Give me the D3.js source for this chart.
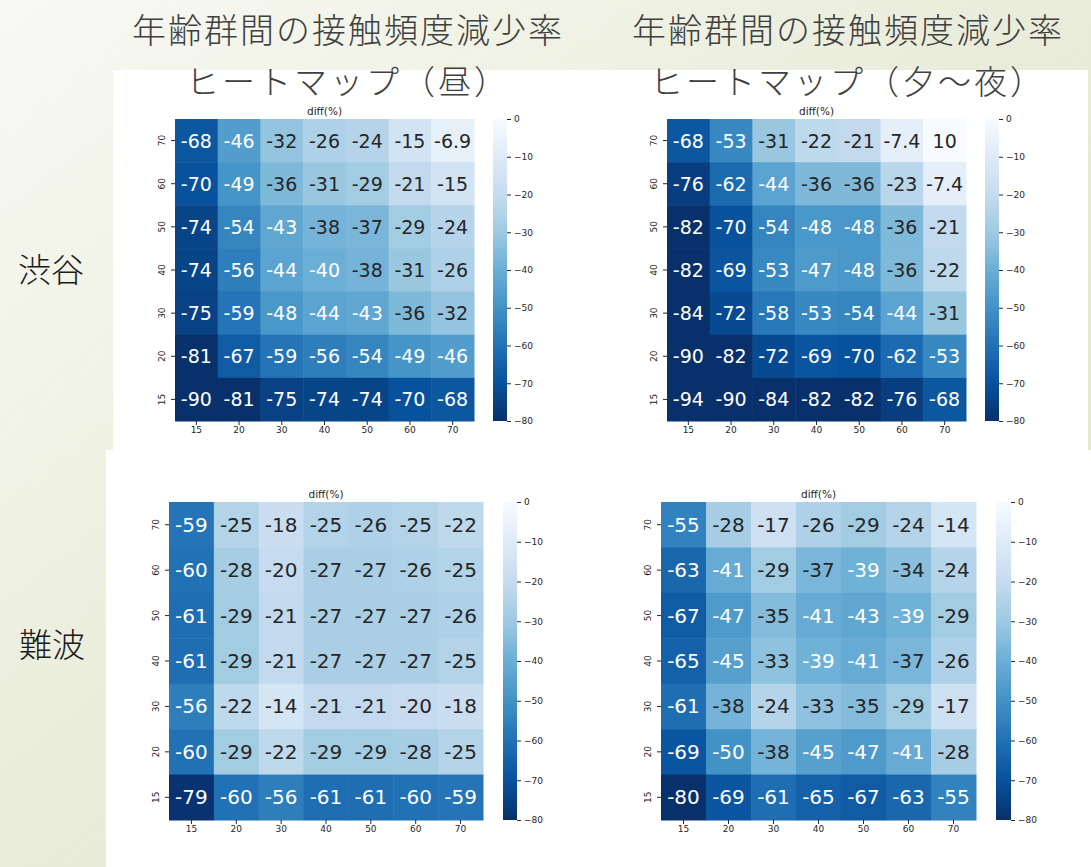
<!DOCTYPE html>
<html>
<head>
<meta charset="utf-8">
<script src="https://cdn.jsdelivr.net/npm/d3@7"></script>
<style>
  html, body { margin: 0; padding: 0; background: #fff; }
  svg { display: block; }
</style>
</head>
<body>
<svg id="chart" width="1091" height="867"></svg>
<script>
// ---------------- data ----------------
const xCategories = [15, 20, 30, 40, 50, 60, 70];
const yCategories = [70, 60, 50, 40, 30, 20, 15]; // top to bottom
const colorbarTicks = [0, -10, -20, -30, -40, -50, -60, -70, -80];
const colorDomain = [0, -80];

const shibuyaDay = [
  [-68, -46, -32, -26, -24, -15, -6.9],
  [-70, -49, -36, -31, -29, -21, -15],
  [-74, -54, -43, -38, -37, -29, -24],
  [-74, -56, -44, -40, -38, -31, -26],
  [-75, -59, -48, -44, -43, -36, -32],
  [-81, -67, -59, -56, -54, -49, -46],
  [-90, -81, -75, -74, -74, -70, -68]
];
const shibuyaNight = [
  [-68, -53, -31, -22, -21, -7.4, 10],
  [-76, -62, -44, -36, -36, -23, -7.4],
  [-82, -70, -54, -48, -48, -36, -21],
  [-82, -69, -53, -47, -48, -36, -22],
  [-84, -72, -58, -53, -54, -44, -31],
  [-90, -82, -72, -69, -70, -62, -53],
  [-94, -90, -84, -82, -82, -76, -68]
];
const nambaDay = [
  [-59, -25, -18, -25, -26, -25, -22],
  [-60, -28, -20, -27, -27, -26, -25],
  [-61, -29, -21, -27, -27, -27, -26],
  [-61, -29, -21, -27, -27, -27, -25],
  [-56, -22, -14, -21, -21, -20, -18],
  [-60, -29, -22, -29, -29, -28, -25],
  [-79, -60, -56, -61, -61, -60, -59]
];
const nambaNight = [
  [-55, -28, -17, -26, -29, -24, -14],
  [-63, -41, -29, -37, -39, -34, -24],
  [-67, -47, -35, -41, -43, -39, -29],
  [-65, -45, -33, -39, -41, -37, -26],
  [-61, -38, -24, -33, -35, -29, -17],
  [-69, -50, -38, -45, -47, -41, -28],
  [-80, -69, -61, -65, -67, -63, -55]
];

const titleLine1 = "年齢群間の接触頻度減少率";
const titleDay = "ヒートマップ（昼）";
const titleNight = "ヒートマップ（夕～夜）";
const placeLabels = ["渋谷", "難波"];
const mapTitle = "diff(%)";

// ---------------- layout ----------------
const panels = [
  { data: shibuyaDay,   x: 175, y: 119, w: 299, h: 302, cbx: 493, cbw: 14, fs: 19 },
  { data: shibuyaNight, x: 667, y: 119, w: 299, h: 302, cbx: 985, cbw: 14, fs: 19 },
  { data: nambaDay,     x: 169, y: 502, w: 314, h: 318, cbx: 503, cbw: 14, fs: 20 },
  { data: nambaNight,   x: 661, y: 502, w: 315, h: 318, cbx: 996, cbw: 15, fs: 20 }
];

const svg = d3.select("#chart");
const defs = svg.append("defs");

// background (slide)
const bg = defs.append("linearGradient").attr("id", "bg")
  .attr("x1", 0).attr("y1", 0).attr("x2", 1).attr("y2", 1);
bg.append("stop").attr("offset", 0).attr("stop-color", "#f8f9f3");
bg.append("stop").attr("offset", 0.5).attr("stop-color", "#e9ecd9");
bg.append("stop").attr("offset", 1).attr("stop-color", "#dfe4c8");
svg.append("rect").attr("width", 1091).attr("height", 867).attr("fill", "url(#bg)");

// white image panels
const whitePanels = [
  [113, 70, 487, 380], [600, 70, 488, 380],
  [106, 450, 494, 417], [600, 450, 491, 417]
];
svg.selectAll("rect.panel").data(whitePanels).join("rect")
  .attr("class", "panel")
  .attr("x", d => d[0]).attr("y", d => d[1])
  .attr("width", d => d[2]).attr("height", d => d[3])
  .attr("fill", "#ffffff");

// colour map: matplotlib Blues (linear between the 9 ColorBrewer colours), reversed
const blues = d3.schemeBlues[9];
const color = d3.scaleLinear()
  .domain(d3.range(9).map(i => colorDomain[0] + (colorDomain[1] - colorDomain[0]) * i / 8))
  .range(blues)
  .interpolate(d3.interpolateRgb)
  .clamp(true);

function luminance(c) {
  const rgb = d3.rgb(c);
  const f = v => { v /= 255; return v <= 0.03928 ? v / 12.92 : Math.pow((v + 0.055) / 1.055, 2.4); };
  return 0.2126 * f(rgb.r) + 0.7152 * f(rgb.g) + 0.0722 * f(rgb.b);
}

const cbGrad = defs.append("linearGradient").attr("id", "cbgrad")
  .attr("x1", 0).attr("y1", 1).attr("x2", 0).attr("y2", 0);
d3.range(0, 41).forEach(i => {
  const v = colorDomain[1] + (colorDomain[0] - colorDomain[1]) * i / 40;
  cbGrad.append("stop").attr("offset", i / 40).attr("stop-color", color(v));
});

const fmtMinus = v => (v < 0 ? "\u2212" + Math.abs(v) : String(v));

panels.forEach(p => {
  const g = svg.append("g");
  const x = d3.scaleBand().domain(xCategories).range([p.x, p.x + p.w]);
  const y = d3.scaleBand().domain(yCategories).range([p.y, p.y + p.h]);

  const cells = [];
  p.data.forEach((row, ri) => row.forEach((v, ci) => cells.push({ r: yCategories[ri], c: xCategories[ci], v })));

  g.selectAll("rect.cell").data(cells).join("rect")
    .attr("class", "cell")
    .attr("x", d => x(d.c)).attr("y", d => y(d.r))
    .attr("width", x.bandwidth() + 0.5).attr("height", y.bandwidth() + 0.5)
    .attr("fill", d => color(d.v));

  g.selectAll("text.ann").data(cells).join("text")
    .attr("class", "ann")
    .attr("x", d => x(d.c) + x.bandwidth() / 2)
    .attr("y", d => y(d.r) + y.bandwidth() / 2)
    .attr("text-anchor", "middle")
    .attr("dominant-baseline", "central")
    .attr("font-family", "DejaVu Sans")
    .attr("font-size", p.fs)
    .attr("fill", d => luminance(color(d.v)) > 0.408 ? "#262626" : "#ffffff")
    .text(d => String(d.v));

  // axes
  const xAxis = g.append("g").attr("transform", `translate(0,${p.y + p.h})`)
    .call(d3.axisBottom(x).tickSize(4).tickPadding(2));
  xAxis.select(".domain").remove();
  xAxis.selectAll("text").attr("font-family", "DejaVu Sans").attr("font-size", 9).attr("fill", "#262626");
  xAxis.selectAll("line").attr("stroke", "#262626");

  const yAxis = g.append("g").attr("transform", `translate(${p.x},0)`)
    .call(d3.axisLeft(y).tickSize(4).tickPadding(2));
  yAxis.select(".domain").remove();
  yAxis.selectAll("line").attr("stroke", "#262626");
  yAxis.selectAll("text")
    .attr("font-family", "DejaVu Sans").attr("font-size", 9).attr("fill", "#262626")
    .attr("x", null).attr("dy", "0.35em")
    .attr("text-anchor", "middle")
    .attr("transform", "translate(-13,0) rotate(-90)");

  // map title
  g.append("text")
    .attr("x", p.x + p.w / 2).attr("y", p.y - 4)
    .attr("text-anchor", "middle")
    .attr("font-family", "DejaVu Sans").attr("font-size", 10.5).attr("fill", "#262626")
    .text(mapTitle);

  // colour bar
  const cb = d3.scaleLinear().domain(colorDomain).range([p.y, p.y + p.h]);
  g.append("rect")
    .attr("x", p.cbx).attr("y", p.y).attr("width", p.cbw).attr("height", p.h)
    .attr("fill", "url(#cbgrad)");
  const cbAxis = g.append("g").attr("transform", `translate(${p.cbx + p.cbw},0)`)
    .call(d3.axisRight(cb).tickValues(colorbarTicks).tickFormat(fmtMinus).tickSize(4).tickPadding(3));
  cbAxis.select(".domain").remove();
  cbAxis.selectAll("line").attr("stroke", "#262626");
  cbAxis.selectAll("text").attr("font-family", "DejaVu Sans").attr("font-size", 9).attr("fill", "#262626");
});

// slide titles
const jp = "'Noto Sans CJK JP Light', 'Noto Sans CJK JP DemiLight', 'Noto Sans CJK JP', 'Noto Sans CJK SC', sans-serif";
[[348, titleDay], [848, titleNight]].forEach(([cx, t2]) => {
  svg.append("text").attr("x", cx).attr("y", 28)
    .attr("text-anchor", "middle").attr("dominant-baseline", "central")
    .attr("font-family", jp).attr("font-weight", 200).attr("font-size", 34)
    .attr("letter-spacing", 2).attr("fill", "#404040")
    .text(titleLine1);
  svg.append("text").attr("x", cx).attr("y", 80)
    .attr("text-anchor", "middle").attr("dominant-baseline", "central")
    .attr("font-family", jp).attr("font-weight", 200).attr("font-size", 33)
    .attr("letter-spacing", 3).attr("fill", "#404040")
    .text(t2);
});

// place labels
[[51, 268, placeLabels[0]], [52, 643, placeLabels[1]]].forEach(([cx, cy, t]) => {
  svg.append("text").attr("x", cx).attr("y", cy)
    .attr("text-anchor", "middle").attr("dominant-baseline", "central")
    .attr("font-family", jp).attr("font-weight", 200).attr("font-size", 33)
    .attr("fill", "#1a1a1a")
    .text(t);
});
</script>
</body>
</html>
